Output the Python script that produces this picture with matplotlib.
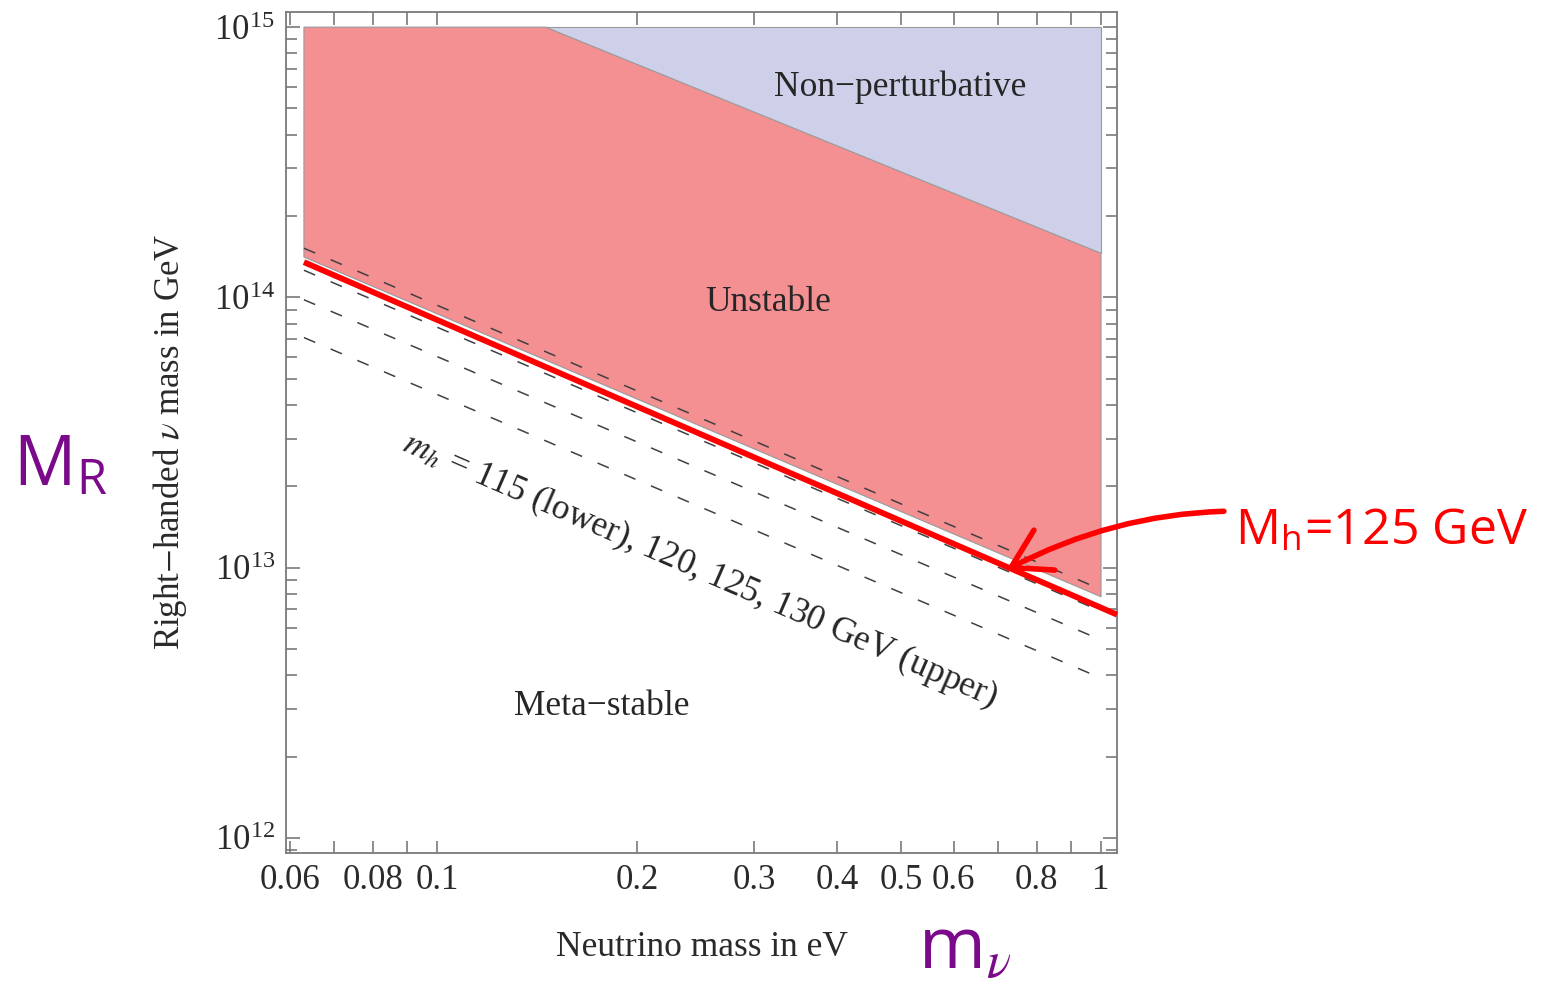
import matplotlib
matplotlib.use("Agg")
import matplotlib.pyplot as plt
from matplotlib.ticker import FixedLocator, FixedFormatter, LogLocator, LogFormatterMathtext, NullFormatter

plt.rcParams["font.family"] = ["Liberation Serif", "DejaVu Serif"]
plt.rcParams["mathtext.fontset"] = "stix"

# light neutrino mass range of the scan (eV)
m_nu = [0.063, 1.0]

# vacuum stability bounds on M_R (GeV) at both ends of m_nu, one per Higgs mass
m_h = [115, 120, 125, 130]
mr_bounds = {
    115: [7.1e13, 3.9e12],
    120: [9.8e13, 5.4e12],
    125: [1.26e14, 6.9e12],
    130: [1.52e14, 8.3e12],
}

# lower edge of the unstable region
unstable_lo = [1.41e14, 7.8e12]
# non-perturbative edge: meets the top of the plot at np_knee, np_end at m_nu = 1
mr_top = 1e15
np_knee = 0.146
np_end = 1.46e14

# hand drawn m_h = 125 GeV line
red_m = [0.063, 1.057]
red_mr = [1.35e14, 6.7e12]

x_ticks = [0.06, 0.07, 0.08, 0.09, 0.1, 0.2, 0.3, 0.4, 0.5, 0.6, 0.7, 0.8, 0.9, 1.0]
x_labels = ["0.06", "", "0.08", "", "0.1", "0.2", "0.3", "0.4", "0.5", "0.6", "", "0.8", "", "1"]

W, H = 1551, 993
fig = plt.figure(figsize=(W / 100, H / 100), dpi=100)
ax = fig.add_axes([286 / W, 1 - 853 / H, (1117 - 286) / W, (853 - 12) / H])
ax.set_xscale("log")
ax.set_yscale("log")
ax.set_xlim(0.0592, 1.057)
ax.set_ylim(10 ** 11.944, 10 ** 15.056)

pink = "#f48f92"
blue = "#ced0e9"
edge = "#9a9a9a"
ax.fill([m_nu[0], m_nu[0], np_knee, m_nu[1], m_nu[1]],
        [unstable_lo[0], mr_top, mr_top, np_end, unstable_lo[1]],
        facecolor=pink, edgecolor=edge, lw=0.8, zorder=1)
ax.fill([np_knee, m_nu[1], m_nu[1]], [mr_top, mr_top, np_end],
        facecolor=blue, edgecolor=edge, lw=0.8, zorder=1)

for mh in m_h:
    ax.plot(m_nu, mr_bounds[mh], color="#404040", lw=1.1, dashes=(8, 11), zorder=2)

ax.plot(red_m, red_mr, color="#ff0000", lw=4.2, solid_capstyle="butt", zorder=3,
        clip_on=False)

txt = dict(fontsize=25.5, color="#262626", ha="center", va="center")
ax.text(0.498, 6.0e14, "Non\u2212perturbative", **txt)
ax.text(0.315, 9.6e13, "Unstable", **txt)
ax.text(0.177, 3.05e12, "Meta\u2212stable", **txt)
ax.text(0.249, 9.8e12, r"$m_h$ = 115 (lower), 120, 125, 130 GeV (upper)",
        rotation=-23.5, rotation_mode="anchor", **txt)

ax.xaxis.set_major_locator(FixedLocator(x_ticks))
ax.xaxis.set_major_formatter(FixedFormatter(x_labels))
ax.xaxis.set_minor_formatter(NullFormatter())
ax.xaxis.set_minor_locator(FixedLocator([]))
ax.yaxis.set_major_locator(LogLocator(base=10))
ax.yaxis.set_major_formatter(LogFormatterMathtext())
ax.yaxis.set_minor_locator(LogLocator(base=10, subs=range(2, 10)))
ax.yaxis.set_minor_formatter(NullFormatter())

ax.tick_params(which="both", direction="in", top=True, right=True, color="#6e6e6e",
               width=1.1, labelsize=25, labelcolor="#2a2a2a")
ax.tick_params(which="major", length=10, pad=8)
ax.tick_params(which="minor", length=8)
ax.tick_params(axis="x", which="major", length=9)
for s in ax.spines.values():
    s.set_color("#7a7a7a")
    s.set_linewidth(1.3)

fig.text(702 / W, 1 - 948 / H, "Neutrino mass in eV", fontsize=25.5, color="#2a2a2a",
         ha="center", va="center")
fig.text(170 / W, 1 - 442 / H, r"Right$-$handed $\nu$ mass in GeV", fontsize=25,
         color="#2a2a2a", ha="center", va="center", rotation=90)

# hand written annotations
purple = "#7a0a8a"
hand = ["Open Sans", "DejaVu Sans"]
fig.text(60 / W, 1 - 468 / H, r"M$_\mathregular{R}$", fontsize=50, color=purple,
         family=hand, ha="center", va="center")
fig.text(965 / W, 1 - 950 / H, r"m$_\nu$", fontsize=52, color=purple,
         family=hand, ha="center", va="center")
ax.annotate(r"M$_\mathregular{h}$=125 GeV", xy=(0.72, 9.8e12),
            xytext=(1235 / W, 1 - 532 / H), textcoords="figure fraction",
            fontsize=36, color="#ff0000", family=hand, ha="left", va="center",
            annotation_clip=False,
            arrowprops=dict(arrowstyle="->,head_length=0.75,head_width=0.45",
                            color="#ff0000", lw=4, shrinkA=6, shrinkB=0,
                            connectionstyle="arc3,rad=0.2"))

fig.savefig("out.png", dpi=100)
